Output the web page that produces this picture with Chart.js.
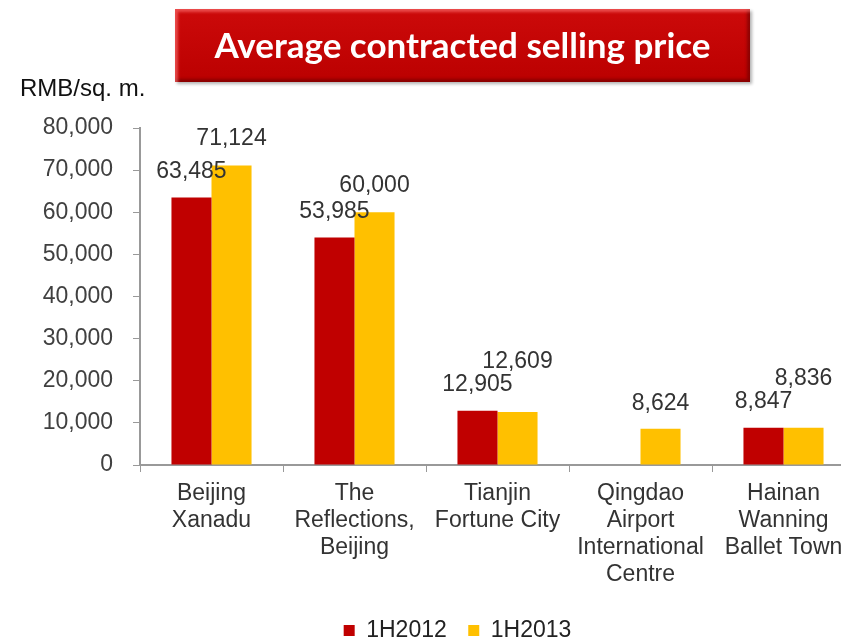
<!DOCTYPE html>
<html>
<head>
<meta charset="utf-8">
<script src="https://cdn.jsdelivr.net/npm/chart.js@4"></script>
<style>
  body { margin: 0; background: #fff; overflow: hidden; }
  #page { position: relative; width: 841px; height: 640px; overflow: hidden; }
  #chartBox { position: absolute; left: 0; top: 0; width: 976px; height: 652px; }
  #title {
    position: absolute; left: 175px; top: 9px; width: 575px; height: 73px;
    background: linear-gradient(#cc0a0a, #bb0000);
    box-shadow: inset 3px 3px 3px rgba(255,120,120,0.6), inset -3px -3px 3px rgba(90,0,0,0.5), 2px 2px 3px rgba(0,0,0,0.3);
    color: #fff; font-family: Lato, "Open Sans", sans-serif; font-weight: bold;
    font-size: 35px; line-height: 71px; text-align: center;
  }
  #unit {
    position: absolute; left: 20px; top: 74px;
    font-family: "Liberation Sans", Arial, sans-serif; font-size: 24px; color: #111;
  }
</style>
</head>
<body>
<div id="page">
  <div id="chartBox"><canvas id="priceChart"></canvas></div>
  <div id="title">Average contracted selling price</div>
  <div id="unit">RMB/sq. m.</div>
</div>
<script>
// chart data
let projects = [
    ["Beijing", "Xanadu"],
    ["The", "Reflections,", "Beijing"],
    ["Tianjin", "Fortune City"],
    ["Qingdao", "Airport", "International", "Centre"],
    ["Hainan", "Wanning", "Ballet Town"]
];
let price2012 = [63485, 53985, 12905, null, 8847];
let price2013 = [71124, 60000, 12609, 8624, 8836];
let seriesNames = ["1H2012", "1H2013"];
let yTicks = [0, 10000, 20000, 30000, 40000, 50000, 60000, 70000, 80000];

// how far above each bar its label sits (px)
let lift2012 = [26, 26, 26, 26, 26];
let lift2013 = [27, 27, 50, 25, 49];

const textFont = "'Liberation Sans', Arial, sans-serif";

// value labels drawn above the bars
const barLabels = {
    id: "barLabels",
    afterDatasetsDraw(chart) {
        let ctx = chart.ctx;
        let lifts = [lift2012, lift2013];
        ctx.save();
        ctx.font = "23px " + textFont;
        ctx.fillStyle = "#333";
        ctx.textAlign = "center";
        ctx.textBaseline = "middle";
        chart.data.datasets.forEach((ds, di) => {
            chart.getDatasetMeta(di).data.forEach((bar, i) => {
                if (ds.data[i] == null) return;
                ctx.fillText(ds.data[i].toLocaleString("en-US"), bar.x, bar.y - lifts[di][i]);
            });
        });
        ctx.restore();
    }
};

// nudge the legend so it is centred under the visible page, not the wide canvas
const legendShift = {
    id: "legendShift",
    afterLayout(chart) {
        if (!chart.legend) return;
        chart.legend.left += 30;
        chart.legend.right += 30;
    }
};

new Chart(document.getElementById("priceChart"), {
    type: "bar",
    data: {
        labels: projects,
        datasets: [
            { label: seriesNames[0], data: price2012, backgroundColor: "#c00000" },
            { label: seriesNames[1], data: price2013, backgroundColor: "#ffc000" }
        ]
    },
    options: {
        responsive: true,
        maintainAspectRatio: false,
        animation: false,
        layout: { padding: { top: 128, right: 121, left: 0, bottom: 0 } },
        plugins: {
            tooltip: { enabled: false },
            legend: {
                position: "bottom",
                labels: {
                    font: { family: textFont, size: 23 },
                    color: "#222",
                    boxWidth: 11,
                    boxHeight: 11,
                    padding: 21.5
                }
            }
        },
        datasets: { bar: { barPercentage: 1, categoryPercentage: 0.56 } },
        scales: {
            x: {
                grid: { display: true, drawOnChartArea: false, offset: true, color: "#999", tickLength: 7 },
                border: { color: "#999", width: 2 },
                ticks: {
                    font: { family: textFont, size: 23, lineHeight: 1.17 },
                    color: "#333",
                    maxRotation: 0,
                    autoSkip: false,
                    padding: 8
                },
                afterFit(scale) {
                    let legendH = scale.chart.legend ? scale.chart.legend.height : 0;
                    scale.height = 652 - 465 - legendH;
                }
            },
            y: {
                min: 0,
                max: 80000,
                afterBuildTicks(scale) {
                    scale.ticks = yTicks.map(v => ({ value: v }));
                },
                grid: { display: true, drawOnChartArea: false, color: "#999", tickLength: 7 },
                border: { color: "#999", width: 2 },
                ticks: {
                    font: { family: textFont, size: 23 },
                    color: "#404040",
                    padding: 20,
                    callback: v => v.toLocaleString("en-US")
                },
                afterFit(scale) {
                    scale.width = 140;
                }
            }
        }
    },
    plugins: [barLabels, legendShift]
});
</script>
</body>
</html>
